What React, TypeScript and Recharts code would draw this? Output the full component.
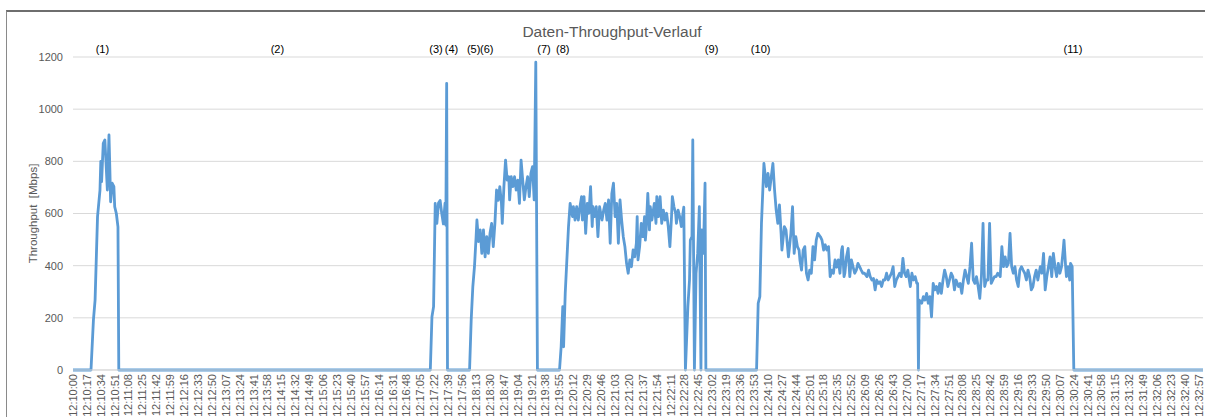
import React from 'react';
import { LineChart, Line, XAxis, YAxis, CartesianGrid, ReferenceLine } from 'recharts';

// seconds since 12:10:00
const seconds = [
  0, 22, 25, 27, 30, 33, 34, 35, 37, 39, 42, 44, 45, 46, 48, 50, 51, 53, 55, 56,
  437, 439, 441, 443, 445, 447, 449, 451, 453, 455, 456, 457, 458,
  485, 487, 489, 491, 493, 494, 496, 498, 500, 502, 504, 506, 508, 510, 512, 514, 516, 518, 520, 522, 524, 525, 527, 529, 531, 533, 534, 536, 538, 540, 542, 544, 546, 548, 550, 552, 554, 556, 558, 560, 562, 564, 566, 568,
  595, 597, 599, 600, 602, 604, 606, 608, 610, 611, 612, 614, 616, 618, 620, 622, 623, 625, 627, 629, 631, 633, 635, 636, 638, 640, 642, 644, 647, 649, 651, 653, 655, 657, 659, 661, 663, 665, 667, 669, 671, 673, 675, 677, 679, 681, 683, 685, 687, 689, 690, 691, 693, 695, 697, 699, 700, 701, 703, 705, 706, 708, 711, 713, 714, 716, 718, 720, 722, 724, 726, 728, 730, 732, 733, 735, 737, 738, 740, 742, 744, 746, 747, 749,
  752, 754, 755, 757, 758, 760, 762, 764, 766, 768, 769, 771, 773, 774,
  836, 838, 840, 842, 845, 848, 850, 852, 854, 856, 858, 860, 862, 864, 866, 867, 870, 872, 875, 878, 880, 882, 884, 886, 888, 889, 891, 893, 895, 897, 899, 901, 903, 905, 907, 909, 911, 914, 916, 918, 920, 922, 924, 926, 928, 930, 932, 934, 936, 938, 940, 941, 943, 944, 946, 948, 950, 952, 954, 956, 958, 960, 962, 964, 966, 968, 971, 973, 975, 977, 979, 981, 983, 985, 987, 989, 991, 993, 995, 997, 999, 1001, 1003, 1005, 1007, 1009, 1011, 1013, 1015, 1017, 1019, 1021, 1024, 1026, 1028, 1030, 1032, 1033, 1034,
  1035, 1038, 1040, 1042, 1044, 1046, 1048, 1050, 1052, 1054, 1056, 1058, 1060, 1062, 1064, 1066, 1068, 1070, 1072, 1074, 1076, 1078, 1080, 1083, 1085, 1087, 1089, 1091, 1093, 1095, 1097, 1099, 1101, 1103, 1105, 1107, 1109, 1111, 1113, 1114, 1115, 1117, 1119, 1121, 1123, 1125, 1127, 1129, 1131, 1134, 1136, 1138, 1140, 1142, 1144, 1146, 1148, 1150, 1152, 1154, 1156, 1158, 1160, 1162, 1164, 1166, 1168, 1170, 1172, 1174, 1176, 1178, 1180, 1183, 1185, 1187, 1189, 1191, 1193, 1195, 1197, 1199, 1201, 1203, 1205, 1207, 1209, 1211, 1212, 1214, 1215, 1217, 1219, 1220, 1222, 1224,
  1382,
];

// Throughput in Mbps
const throughput = [
  0, 0, 192, 268, 588, 690, 800, 722, 869, 882, 690, 901, 780, 645, 716, 703, 626, 600, 549, 0,
  0, 204, 243, 639, 562, 640, 650, 600, 560, 640, 555, 1099, 0,
  0, 192, 320, 396, 511, 575, 492, 537, 447, 537, 434, 511, 447, 524, 562, 473, 562, 690, 650, 703, 639, 562, 703, 805, 728, 741, 652, 741, 703, 741, 690, 728, 639, 805, 728, 652, 703, 741, 665, 754, 780, 652, 1180, 0,
  0, 89, 243, 89, 294, 422, 549, 639, 600, 588, 626, 575, 626, 575, 626, 665, 575, 665, 524, 639, 601, 703, 550, 626, 588, 626, 511, 626, 575, 613, 639, 575, 652, 486, 677, 716, 588, 639, 486, 652, 575, 511, 473, 409, 371, 422, 396, 460, 434, 486, 588, 422, 473, 562, 511, 588, 498, 537, 677, 537, 626, 575, 639, 562, 665, 588, 665, 562, 613, 575, 601, 550, 473, 588, 665, 626, 601, 562, 613, 588, 550, 601, 624, 0,
  243, 345, 498, 511, 882, 0, 371, 447, 626, 0, 537, 447, 716, 0,
  0, 256, 281, 562, 792, 703, 754, 690, 741, 792, 690, 613, 562, 633, 524, 460, 550, 537, 434, 524, 626, 447, 511, 473, 460, 422, 383, 460, 473, 371, 345, 383, 371, 473, 422, 498, 524, 511, 498, 460, 480, 460, 473, 358, 383, 371, 422, 394, 422, 371, 460, 473, 358, 371, 434, 466, 358, 422, 396, 371, 383, 409, 396, 383, 371, 371, 358, 383, 358, 345, 351, 307, 345, 332, 338, 320, 345, 345, 371, 345, 358, 371, 396, 320, 345, 358, 371, 358, 428, 371, 358, 383, 320, 371, 345, 358, 332, 332, 0,
  268, 256, 281, 268, 294, 256, 281, 204, 332, 307, 320, 294, 332, 294, 345, 383, 358, 320, 345, 371, 358, 307, 345, 320, 332, 294, 345, 383, 358, 332, 396, 486, 345, 332, 358, 320, 275, 358, 562, 422, 320, 345, 345, 562, 332, 345, 358, 358, 371, 358, 473, 396, 434, 396, 409, 524, 396, 371, 396, 345, 320, 383, 396, 383, 371, 345, 383, 358, 307, 320, 358, 383, 345, 396, 371, 447, 307, 358, 396, 434, 358, 447, 396, 358, 409, 371, 396, 460, 498, 396, 358, 396, 345, 409, 396, 0,
  0,
];

const yTicks = [0, 200, 400, 600, 800, 1000, 1200];

const timeLabels = [
  '12:10:00', '12:10:17', '12:10:34', '12:10:51', '12:11:08', '12:11:25', '12:11:42', '12:11:59',
  '12:12:16', '12:12:33', '12:12:50', '12:13:07', '12:13:24', '12:13:41', '12:13:58', '12:14:15',
  '12:14:32', '12:14:49', '12:15:06', '12:15:23', '12:15:40', '12:15:57', '12:16:14', '12:16:31',
  '12:16:48', '12:17:05', '12:17:22', '12:17:39', '12:17:56', '12:18:13', '12:18:30', '12:18:47',
  '12:19:04', '12:19:21', '12:19:38', '12:19:55', '12:20:12', '12:20:29', '12:20:46', '12:21:03',
  '12:21:20', '12:21:37', '12:21:54', '12:22:11', '12:22:28', '12:22:45', '12:23:02', '12:23:19',
  '12:23:36', '12:23:53', '12:24:10', '12:24:27', '12:24:44', '12:25:01', '12:25:18', '12:25:35',
  '12:25:52', '12:26:09', '12:26:26', '12:26:43', '12:27:00', '12:27:17', '12:27:34', '12:27:51',
  '12:28:08', '12:28:25', '12:28:42', '12:28:59', '12:29:16', '12:29:33', '12:29:50', '12:30:07',
  '12:30:24', '12:30:41', '12:30:58', '12:31:15', '12:31:32', '12:31:49', '12:32:06', '12:32:23',
  '12:32:40', '12:32:57',
];

// annotation markers: label and the second at which it sits
const markerLabels = ['(1)', '(2)', '(3)', '(4)', '(5)', '(6)', '(7)', '(8)', '(9)', '(10)', '(11)'];
const markerSeconds = [36, 250, 444, 463, 490, 506, 576, 599, 781, 841, 1223];

const toSec = (s: string) => {
  const [h, m, sec] = s.split(':').map(Number);
  return h * 3600 + m * 60 + sec - (12 * 3600 + 10 * 60);
};
const xTicks = timeLabels.map(toSec);
const labelBySec: Record<number, string> = {};
timeLabels.forEach((l) => { labelBySec[toSec(l)] = l; });

const data = seconds.map((s, i) => ({ t: s, v: throughput[i] }));

const FONT = '"Liberation Sans", Arial, sans-serif';

const TimeTick = (props: any) => {
  const { x, y, payload } = props;
  return (
    <text
      x={0}
      y={0}
      transform={`translate(${x},${y}) rotate(-90)`}
      textAnchor="end"
      dy="0.35em"
      fontSize={11}
      fill="#595959"
      fontFamily={FONT}
    >
      {labelBySec[payload.value] ?? ''}
    </text>
  );
};

export default function App() {
  return (
    <div style={{ position: 'absolute', left: 0, top: 0, width: 1205, height: 417, background: '#fff', overflow: 'hidden' }}>
      <div
        style={{
          position: 'absolute', left: 6, top: 10, width: 1300, height: 500,
          borderTop: '2px solid #6e6e6e', borderLeft: '1px solid #8a8a8a', boxSizing: 'border-box',
        }}
      />
      <div
        style={{
          position: 'absolute', left: 0, width: 1224, top: 22, textAlign: 'center',
          fontFamily: FONT, fontSize: 15.5, color: '#595959', lineHeight: '20px',
        }}
      >
        Daten-Throughput-Verlauf
      </div>
      <div style={{ position: 'absolute', left: 0, top: 0 }}>
        <LineChart width={1205} height={417} data={data} margin={{ top: 57, right: 2, left: 0, bottom: 0 }}>
          <CartesianGrid vertical={false} stroke="#d9d9d9" strokeWidth={1} />
          <XAxis
            dataKey="t"
            type="number"
            domain={[0, 1382]}
            ticks={xTicks}
            interval={0}
            tick={<TimeTick />}
            tickLine={false}
            tickSize={2}
            tickMargin={2}
            height={47}
            axisLine={{ stroke: '#d9d9d9' }}
            allowDataOverflow
          />
          <YAxis
            type="number"
            domain={[0, 1200]}
            ticks={yTicks}
            interval={0}
            width={73}
            axisLine={false}
            tickLine={false}
            tickMargin={4}
            tick={{ fontSize: 11, fill: '#595959', fontFamily: FONT }}
            label={{
              value: 'Throughput\u00a0\u00a0[Mbps]',
              angle: -90,
              position: 'center',
              dx: -4,
              style: { fontSize: 11.5, fill: '#595959', fontFamily: FONT },
            }}
          />
          {markerLabels.map((m, i) => (
            <ReferenceLine
              key={m}
              x={markerSeconds[i]}
              stroke="none"
              ifOverflow="visible"
              label={{ value: m, position: 'top', offset: 4, fill: '#000', fontSize: 11, fontFamily: FONT }}
            />
          ))}
          <Line
            type="linear"
            dataKey="v"
            stroke="#5b9bd5"
            strokeWidth={2.8}
            dot={false}
            strokeLinejoin="round"
            isAnimationActive={false}
          />
        </LineChart>
      </div>
    </div>
  );
}
